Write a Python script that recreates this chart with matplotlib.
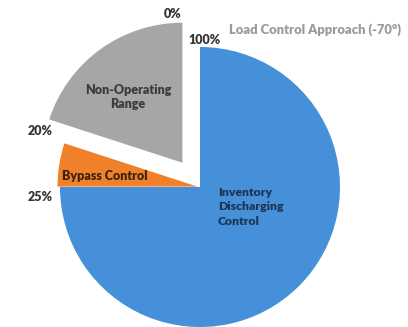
from matplotlib import pyplot as plt

plt.rcParams['font.family'] = ['Lato', 'DejaVu Sans']

# load ranges (share of the circle, %), counter-clockwise from the top
regions = ["Non-Operating\nRange", "Bypass Control", "Inventory\nDischarging\nControl"]
shares = [20, 5, 75]
colors = ["#a6a6a6", "#f0802a", "#4590d8"]
boundary_labels = ["0%", "20%", "25%", "100%"]
title = "Load Control Approach (-70\u00b0)"

W, H = 408, 327
fig = plt.figure(figsize=(W / 100, H / 100), dpi=100)
ax = fig.add_axes([0, 0, 1, 1])

cx, cy, r = 200, H - 187, 140
# explode offsets are in data units (pixels here)
explode = [30, 2.5, 0]
ax.pie(shares, colors=colors, explode=explode, startangle=90, counterclock=True,
       center=(cx, cy), radius=r, wedgeprops=dict(linewidth=0))

ax.set_xlim(0, W)
ax.set_ylim(0, H)
ax.set_aspect('equal')
ax.axis('off')

def px(x, y):
    return x, H - y

ax.text(*px(128, 97), regions[0], ha='center', va='center', fontsize=9,
        fontweight='heavy', color='#3a3a3a', linespacing=1.3)
ax.text(*px(105, 176), regions[1], ha='center', va='center', fontsize=9,
        fontweight='heavy', color='#3a2410')
ax.text(*px(218, 207), regions[2], ha='left', va='center', fontsize=8.8,
        fontweight='heavy', color='#1e3452', linespacing=1.4)

# load % at slice boundaries
ax.text(*px(173, 14), boundary_labels[0], ha='center', va='center', fontsize=9,
        fontweight='heavy', color='#333333')
ax.text(*px(40, 131), boundary_labels[1], ha='center', va='center', fontsize=9,
        fontweight='heavy', color='#333333')
ax.text(*px(40, 197), boundary_labels[2], ha='center', va='center', fontsize=9,
        fontweight='heavy', color='#333333')
ax.text(*px(204, 40), boundary_labels[3], ha='center', va='center', fontsize=9,
        fontweight='heavy', color='#333333')

ax.text(*px(315, 30), title, ha='center', va='center', fontsize=9.4,
        fontweight='heavy', color='#9a9a9a')

fig.savefig("out.png", dpi=100)
